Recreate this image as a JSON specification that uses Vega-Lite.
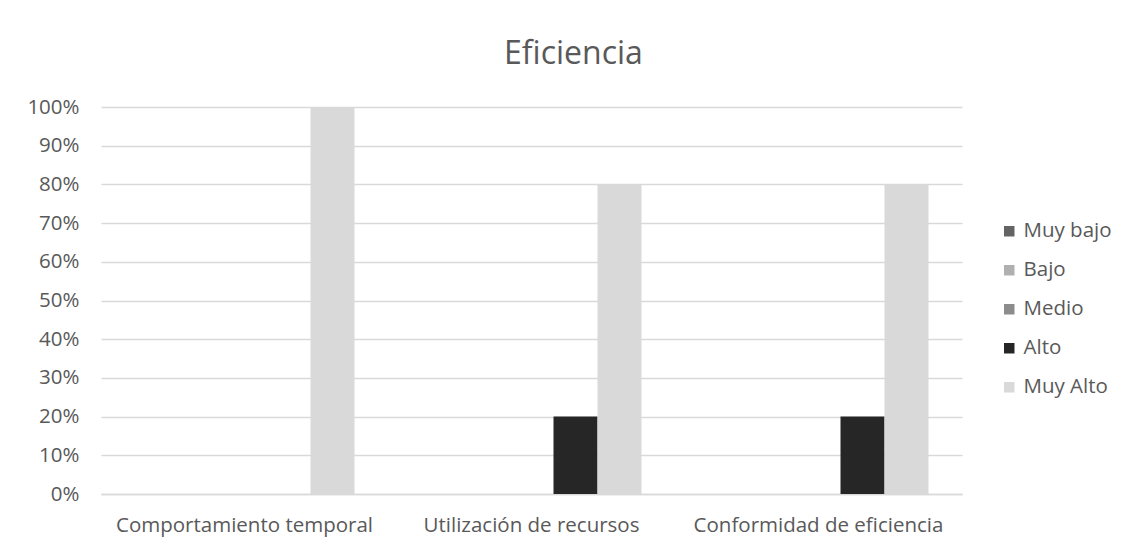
{
  "$schema": "https://vega.github.io/schema/vega-lite/v6.json",
  "autosize": {"type": "none"},
  "width": 861,
  "height": 387,
  "padding": {"left": 101, "top": 107, "right": 168, "bottom": 56},
  "background": "white",
  "title": {
    "text": "Eficiencia",
    "anchor": "middle",
    "frame": "bounds",
    "fontSize": 32,
    "font": "Open Sans",
    "fontWeight": "normal",
    "color": "#595959",
    "offset": 26,
    "dx": 4
  },
  "data": {
    "values": [
      {"criterio": "Comportamiento temporal", "nivel": "Muy bajo", "valor": 0},
      {"criterio": "Comportamiento temporal", "nivel": "Bajo", "valor": 0},
      {"criterio": "Comportamiento temporal", "nivel": "Medio", "valor": 0},
      {"criterio": "Comportamiento temporal", "nivel": "Alto", "valor": 0},
      {"criterio": "Comportamiento temporal", "nivel": "Muy Alto", "valor": 1.0},
      {"criterio": "Utilización de recursos", "nivel": "Muy bajo", "valor": 0},
      {"criterio": "Utilización de recursos", "nivel": "Bajo", "valor": 0},
      {"criterio": "Utilización de recursos", "nivel": "Medio", "valor": 0},
      {"criterio": "Utilización de recursos", "nivel": "Alto", "valor": 0.2},
      {"criterio": "Utilización de recursos", "nivel": "Muy Alto", "valor": 0.8},
      {"criterio": "Conformidad de eficiencia", "nivel": "Muy bajo", "valor": 0},
      {"criterio": "Conformidad de eficiencia", "nivel": "Bajo", "valor": 0},
      {"criterio": "Conformidad de eficiencia", "nivel": "Medio", "valor": 0},
      {"criterio": "Conformidad de eficiencia", "nivel": "Alto", "valor": 0.2},
      {"criterio": "Conformidad de eficiencia", "nivel": "Muy Alto", "valor": 0.8}
    ]
  },
  "mark": {"type": "bar"},
  "encoding": {
    "x": {
      "field": "criterio",
      "type": "nominal",
      "sort": null,
      "title": null,
      "scale": {"paddingInner": 0.2334, "paddingOuter": 0.1167},
      "axis": {
        "labelAngle": 0,
        "labelFontSize": 20.5,
        "labelFont": "Open Sans",
        "labelColor": "#595959",
        "labelLimit": 0,
        "labelPadding": 21,
        "ticks": false,
        "domainColor": "#d9d9d9",
        "domainWidth": 1.5
      }
    },
    "xOffset": {
      "field": "nivel",
      "type": "nominal",
      "sort": ["Muy bajo", "Bajo", "Medio", "Alto", "Muy Alto"],
      "scale": {"paddingInner": 0, "paddingOuter": 0}
    },
    "y": {
      "field": "valor",
      "type": "quantitative",
      "title": null,
      "scale": {"domain": [0, 1], "nice": false},
      "axis": {
        "format": "%",
        "values": [0, 0.1, 0.2, 0.3, 0.4, 0.5, 0.6, 0.7, 0.8, 0.9, 1.0],
        "labelFontSize": 20.5,
        "labelFont": "Open Sans",
        "labelColor": "#595959",
        "labelPadding": 22,
        "ticks": false,
        "domain": false,
        "gridColor": "#d9d9d9",
        "gridWidth": 1.5
      }
    },
    "color": {
      "field": "nivel",
      "type": "nominal",
      "title": null,
      "sort": ["Muy bajo", "Bajo", "Medio", "Alto", "Muy Alto"],
      "scale": {
        "domain": ["Muy bajo", "Bajo", "Medio", "Alto", "Muy Alto"],
        "range": ["#646464", "#b0b0b0", "#8c8c8c", "#262626", "#d9d9d9"]
      },
      "legend": {
        "orient": "none",
        "legendX": 898,
        "legendY": 114,
        "symbolType": "square",
        "symbolSize": 110,
        "symbolStrokeWidth": 0,
        "labelFontSize": 20.5,
        "labelFont": "Open Sans",
        "labelColor": "#595959",
        "labelOffset": 4,
        "rowPadding": 18
      }
    }
  },
  "config": {
    "view": {"stroke": null}
  }
}
